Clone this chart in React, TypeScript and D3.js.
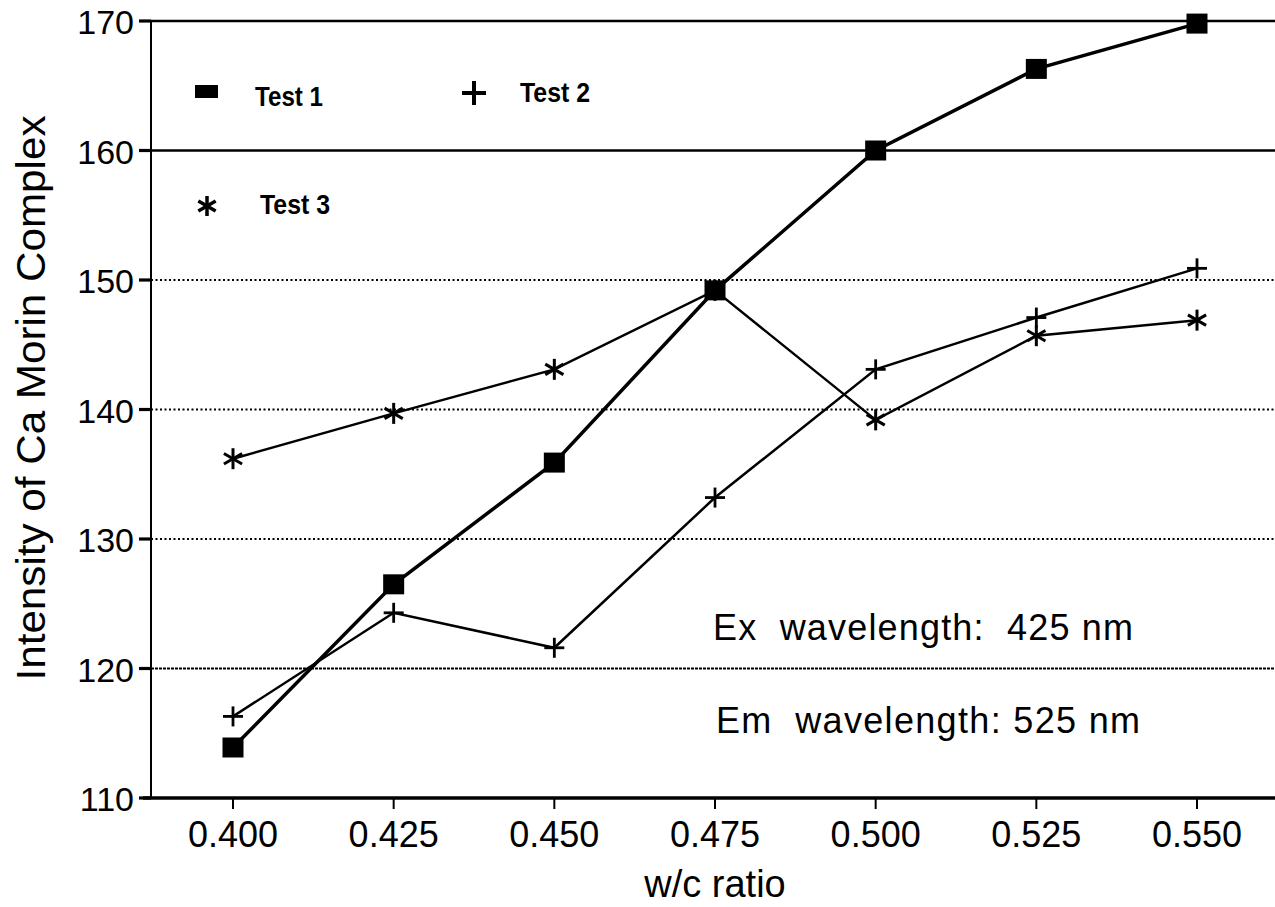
import React from "react";
import * as d3 from "d3";

const wcRatios = [0.4, 0.425, 0.45, 0.475, 0.5, 0.525, 0.55];
const test1 = [113.9, 126.5, 135.9, 149.2, 160.0, 166.3, 169.8];
const test2 = [116.3, 124.3, 121.6, 133.2, 143.1, 147.1, 150.9];
const test3 = [136.2, 139.7, 143.1, 149.2, 139.2, 145.7, 146.9];
const yTicks = [110, 120, 130, 140, 150, 160, 170];
const xTickLabels = ["0.400", "0.425", "0.450", "0.475", "0.500", "0.525", "0.550"];
const solidGrid = [160, 170];
const dottedGrid = [130, 140, 150];
const denseGrid = [120];

const W = 1275;
const H = 907;
const axisX = 151;
const FONT = "'Liberation Sans', Arial, Helvetica, sans-serif";

const x = d3.scaleLinear().domain([0.4, 0.55]).range([233, 1197]);
const y = d3.scaleLinear().domain([110, 170]).range([798, 21]);

function Square({ cx, cy }: { cx: number; cy: number }) {
  return <rect x={cx - 10.5} y={cy - 10} width={21} height={20} fill="#000" />;
}
function Plus({ cx, cy, r = 10, sw = 2.8 }: { cx: number; cy: number; r?: number; sw?: number }) {
  return (
    <g stroke="#000" strokeWidth={sw}>
      <line x1={cx - r} y1={cy} x2={cx + r} y2={cy} />
      <line x1={cx} y1={cy - r} x2={cx} y2={cy + r} />
    </g>
  );
}
function Star({ cx, cy, r = 10.5, sw = 3 }: { cx: number; cy: number; r?: number; sw?: number }) {
  const angles = [90, 30, -30];
  return (
    <g stroke="#000" strokeWidth={sw}>
      {angles.map((a) => {
        const rad = (a * Math.PI) / 180;
        const dx = Math.cos(rad) * r;
        const dy = Math.sin(rad) * r;
        return <line key={a} x1={cx - dx} y1={cy - dy} x2={cx + dx} y2={cy + dy} />;
      })}
    </g>
  );
}

export default function App() {
  const line = d3
    .line<number>()
    .x((_, i) => x(wcRatios[i]))
    .y((d) => y(d));

  return (
    <svg
      width={W}
      height={H}
      style={{ position: "absolute", left: 0, top: 0, background: "#fff" }}
      fontFamily={FONT}
    >
      <rect x={0} y={0} width={W} height={H} fill="#fff" />
      {/* gridlines */}
      {solidGrid.map((v) => (
        <line key={"s" + v} x1={axisX} x2={W} y1={y(v)} y2={y(v)} stroke="#000" strokeWidth={2.6} />
      ))}
      {dottedGrid.map((v) => (
        <line
          key={"d" + v}
          x1={axisX}
          x2={W}
          y1={y(v)}
          y2={y(v)}
          stroke="#000"
          strokeWidth={2.2}
          strokeDasharray="2 2.5"
        />
      ))}
      {denseGrid.map((v) => (
        <line
          key={"e" + v}
          x1={axisX}
          x2={W}
          y1={y(v)}
          y2={y(v)}
          stroke="#000"
          strokeWidth={2.2}
          strokeDasharray="3 1"
        />
      ))}
      {/* axes */}
      <line x1={axisX} x2={axisX} y1={y(170)} y2={y(110)} stroke="#000" strokeWidth={2} />
      <line x1={axisX - 8} x2={W} y1={y(110)} y2={y(110)} stroke="#000" strokeWidth={3.5} />
      {yTicks.map((v) => (
        <g key={"yt" + v}>
          <line x1={axisX - 12} x2={axisX} y1={y(v)} y2={y(v)} stroke="#000" strokeWidth={3.2} />
          <text x={134} y={y(v) + 13} fontSize={34} textAnchor="end" fill="#000">
            {v}
          </text>
        </g>
      ))}
      {wcRatios.map((v, i) => (
        <g key={"xt" + v}>
          <line x1={x(v)} x2={x(v)} y1={y(110)} y2={y(110) + 11} stroke="#000" strokeWidth={2} />
          <text x={x(v)} y={847} fontSize={36} textAnchor="middle" fill="#000">
            {xTickLabels[i]}
          </text>
        </g>
      ))}
      <text x={715} y={897} fontSize={38} textAnchor="middle" fill="#000">
        w/c ratio
      </text>
      <text
        transform={`translate(45, 398) rotate(-90)`}
        fontSize={40}
        textAnchor="middle"
        fill="#000"
        textLength={565}
        lengthAdjust="spacingAndGlyphs"
      >
        Intensity of Ca Morin Complex
      </text>

      {/* series lines */}
      <path d={line(test3) || ""} fill="none" stroke="#000" strokeWidth={2.5} />
      <path d={line(test2) || ""} fill="none" stroke="#000" strokeWidth={2.5} />
      <path d={line(test1) || ""} fill="none" stroke="#000" strokeWidth={3.5} />

      {/* markers */}
      {test3.map((v, i) => (
        <Star key={"m3" + i} cx={x(wcRatios[i])} cy={y(v)} />
      ))}
      {test2.map((v, i) => (
        <Plus key={"m2" + i} cx={x(wcRatios[i])} cy={y(v)} />
      ))}
      {test1.map((v, i) => (
        <Square key={"m1" + i} cx={x(wcRatios[i])} cy={y(v)} />
      ))}

      {/* legend */}
      <rect x={195} y={85} width={23} height={13} fill="#000" />
      <text x={255} y={106} fontSize={28} fontWeight="bold" fill="#000" textLength={68} lengthAdjust="spacingAndGlyphs">
        Test 1
      </text>
      <Plus cx={474} cy={93} r={12} sw={4} />
      <text x={520} y={102} fontSize={28} fontWeight="bold" fill="#000" textLength={70} lengthAdjust="spacingAndGlyphs">
        Test 2
      </text>
      <Star cx={207} cy={206} r={10} sw={3.5} />
      <text x={260} y={214} fontSize={28} fontWeight="bold" fill="#000" textLength={70} lengthAdjust="spacingAndGlyphs">
        Test 3
      </text>

      {/* annotations */}
      <text x={713} y={640} fontSize={36} fill="#000" textLength={420} lengthAdjust="spacing" xmlSpace="preserve">
        Ex  wavelength:  425 nm
      </text>
      <text x={716} y={733} fontSize={36} fill="#000" textLength={424} lengthAdjust="spacing" xmlSpace="preserve">
        Em  wavelength: 525 nm
      </text>
    </svg>
  );
}
